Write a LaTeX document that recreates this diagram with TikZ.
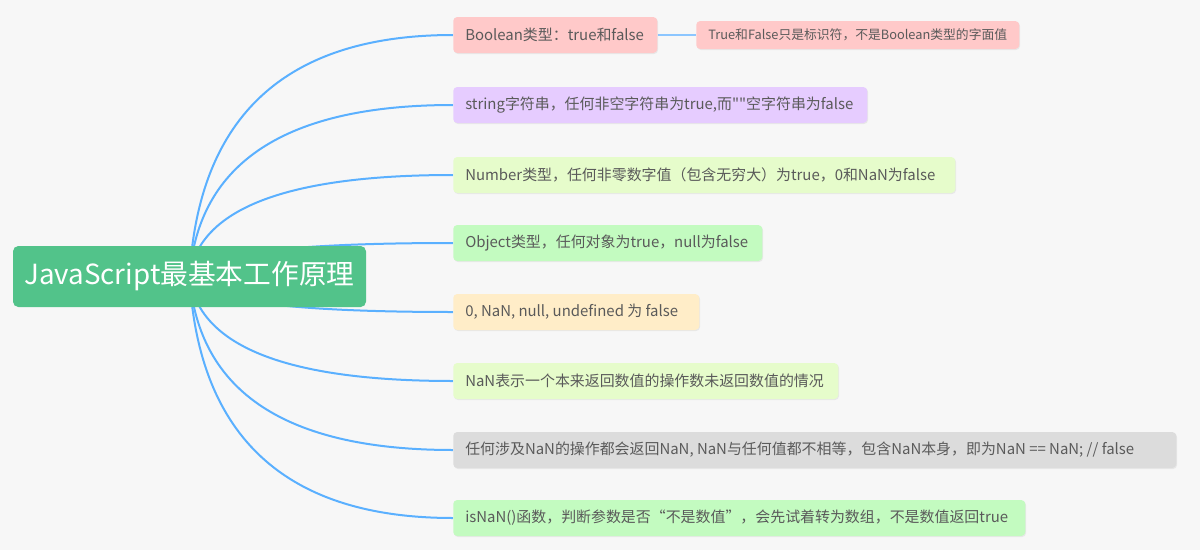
\documentclass[tikz,border=0pt]{standalone}
\usepackage{fontspec}
\setmainfont{Noto Sans CJK SC}
\setmonofont{Noto Sans CJK SC}
\usetikzlibrary{calc,backgrounds,shadows}
\definecolor{bgc}{HTML}{F7F7F7}
\definecolor{rootc}{HTML}{52C38A}
\definecolor{linec}{HTML}{5AB0FF}
\definecolor{sublinec}{HTML}{8CC6FF}
\definecolor{txtc}{HTML}{5A5A5A}
\definecolor{cpink}{HTML}{FFC9C9}
\definecolor{cpurple}{HTML}{E6CCFF}
\definecolor{cyellowgreen}{HTML}{E6FCCB}
\definecolor{cgreen}{HTML}{C3FBC0}
\definecolor{corange}{HTML}{FFEDC8}
\definecolor{cgray}{HTML}{DCDCDC}
\newcommand{\pxu}{0.75pt}
\newcommand{\lbox}[2]{\pgfmathsetlengthmacro\tmpw{(#1-24)*0.75pt}\makebox[\tmpw][l]{#2}}
\tikzset{
  rootbox/.style={fill=rootc, text=white, rounded corners=4pt, minimum height=61*\pxu,
    minimum width=353*\pxu, inner sep=0pt, font=\fontsize{20.8}{24}\selectfont},
  childbox/.style={anchor=west, rounded corners=3pt, minimum height=36*\pxu, inner ysep=0pt,
    inner xsep=12*\pxu, text=txtc, font=\fontsize{11.2}{13}\selectfont,
    drop shadow={shadow xshift=0.6pt, shadow yshift=-0.8pt, opacity=0.12}},
  subbox/.style={childbox, minimum height=28*\pxu, inner xsep=0pt, font=\fontsize{9.6}{11}\selectfont},
  branch/.style={draw=linec, line width=1.5pt},
  subbranch/.style={draw=sublinec, line width=1.1pt},
}
\begin{document}
\begin{tikzpicture}[x=\pxu, y=-\pxu]
\useasboundingbox (0,0) rectangle (1200,550);
\node[rootbox] (root) at (189.5,276.5) {JavaScript最基本工作原理};
\node[childbox, fill=cpink] (c1) at (453,35) {\lbox{204}{Boolean类型：true和false}};
\node[childbox, fill=cpurple] (c2) at (453,105) {\lbox{414}{string字符串，任何非空字符串为true,而{\ttfamily\char34\char34}空字符串为false}};
\node[childbox, fill=cyellowgreen] (c3) at (453,175) {\lbox{502}{Number类型，任何非零数字值（包含无穷大）为true，0和NaN为false}};
\node[childbox, fill=cgreen] (c4) at (453,243) {\lbox{309}{Object类型，任何对象为true，null为false}};
\node[childbox, fill=corange] (c5) at (453,312) {\lbox{246}{0, NaN, null, undefined 为 false}};
\node[childbox, fill=cyellowgreen] (c6) at (453,381) {\lbox{385}{NaN表示一个本来返回数值的操作数未返回数值的情况}};
\node[childbox, fill=cgray] (c7) at (453,450) {\lbox{723}{任何涉及NaN的操作都会返回NaN, NaN与任何值都不相等，包含NaN本身，即为NaN == NaN; // false}};
\node[childbox, fill=cgreen] (c8) at (453,518) {\lbox{572}{isNaN()函数，判断参数是否“不是数值”，会先试着转为数组，不是数值返回true}};
\node[subbox, fill=cpink, minimum width=323*\pxu] (s1) at (696,35) {True和False只是标识符，不是Boolean类型的字面值};
\coordinate (cx) at (203,0);
\begin{scope}[on background layer]
  \fill[bgc] (0,0) rectangle (1200,550);
  \foreach \c in {c1,c2,c3,c4,c5,c6,c7,c8}{
    \draw[branch] (root.center) .. controls ($(root.center)!0.667!(cx |- \c.west)$) and ($(\c.west)!0.667!(cx |- \c.west)$) .. (\c.west);
  }
  \draw[subbranch] (c1.east) -- (s1.west);
\end{scope}
\end{tikzpicture}
\end{document}
